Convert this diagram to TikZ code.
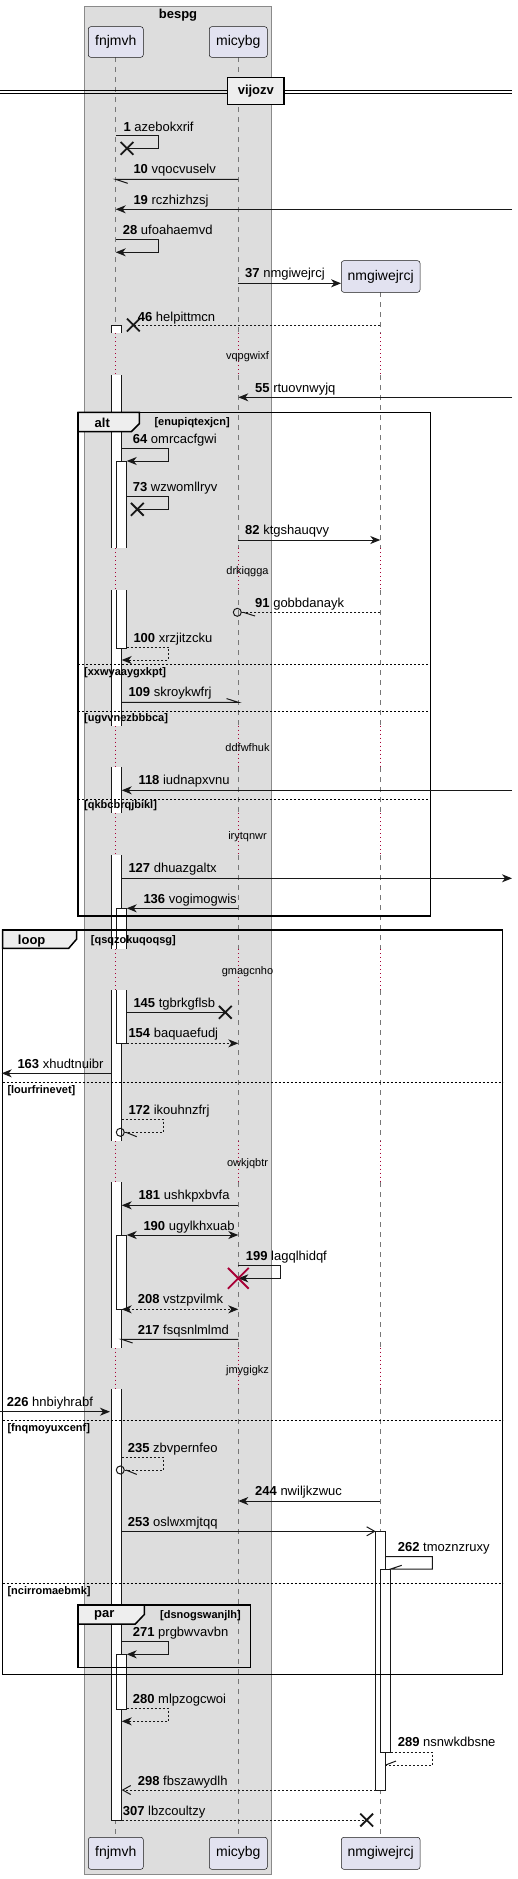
\documentclass[tikz,border=0pt]{standalone}
\usepackage{fontspec}
\setmainfont{Liberation Sans}
\usetikzlibrary{arrows.meta,shapes.misc}
\definecolor{ink}{HTML}{181818}
\definecolor{boxbg}{HTML}{DDDDDD}
\definecolor{boxbd}{HTML}{8A8A8A}
\definecolor{partbg}{HTML}{E2E2F0}
\definecolor{tabbg}{HTML}{EEEEEE}
\definecolor{delayc}{HTML}{A80036}
\definecolor{lifec}{HTML}{777777}
\tikzset{
 lbl/.style={font=\fontsize{13}{15}\selectfont, anchor=base west, inner sep=0},
 dlbl/.style={font=\fontsize{11}{13}\selectfont, anchor=base, inner sep=0},
 cond/.style={font=\bfseries\fontsize{11}{13}\selectfont, anchor=base west, inner sep=0},
 ftitle/.style={font=\bfseries\fontsize{13}{15}\selectfont, inner sep=0},
 msg/.style={draw=ink, line width=1pt},
 arr/.style={-{Stealth[length=10pt,width=8pt,inset=3pt]}},
 barr/.style={{Stealth[length=10pt,width=8pt,inset=3pt]}-{Stealth[length=10pt,width=8pt,inset=3pt]}},
 oarr/.style={-{Straight Barb[length=8pt,width=9pt]}},
 dsh/.style={dash pattern=on 2pt off 2pt},
 xmark/.style={cross out, draw=ink, line width=1.8pt, minimum size=11pt, inner sep=0},
 circ/.style={circle, draw=ink, line width=1pt, minimum size=8pt, inner sep=0},
 part/.style={draw=ink, line width=0.5pt, fill=partbg, rounded corners=2.5pt, font=\fontsize{14}{16}\selectfont, inner sep=0},
 frm/.style={draw=black, line width=1.5pt},
 sep/.style={draw=black, line width=1pt, dash pattern=on 2pt off 2pt},
 life/.style={draw=lifec, line width=0.8pt, dash pattern=on 5pt off 5pt},
 dly/.style={draw=delayc, line width=0.8pt, dash pattern=on 1pt off 3pt},
 actline/.style={draw=ink, line width=1pt},
}
\newcommand\actmid[4]{\fill[white] (#1,#3) rectangle (#2,#4); \draw[actline] (#1,#3) -- (#1,#4) (#2,#3) -- (#2,#4);}
\newcommand\acttop[4]{\fill[white] (#1,#3) rectangle (#2,#4); \draw[actline] (#1,#4) -- (#1,#3) -- (#2,#3) -- (#2,#4);}
\newcommand\actbot[4]{\fill[white] (#1,#3) rectangle (#2,#4); \draw[actline] (#1,#3) -- (#1,#4) -- (#2,#4) -- (#2,#3);}
\newcommand\actfull[4]{\draw[actline, fill=white] (#1,#3) rectangle (#2,#4);}
\begin{document}
\begin{tikzpicture}[x=1pt,y=-1pt]
\useasboundingbox (0,0) rectangle (518,1879);
% lifeline coordinates
\coordinate (F) at (115.7,0);
\coordinate (M) at (238.3,0);
\coordinate (N) at (380.3,0);
\coordinate (FA) at (121.7,0);
\coordinate (FL) at (111.7,0);
\coordinate (FN) at (126.7,0);
\coordinate (NL) at (375.7,0);
\coordinate (NR) at (385.7,0);
\coordinate (NN) at (390.7,0);
\coordinate (RE) at (512,0);
\coordinate (LE) at (0,0);
% box
\draw[boxbd, fill=boxbg, line width=1pt] (84.3,6) rectangle (271.7,1874);
\node[ftitle] (bt) at (178,15) {bespg};
% lifelines
\foreach \x in {115.7,238.3}{
  \foreach \a/\b in {57.3/333.3,375/548.3,590/725.7,767.3/813.3,855/949,990/1140.7,1182.3/1347.7,1389/1837.3}
    \draw[life] (\x,\a) -- (\x,\b);
}
\foreach \a/\b in {292.3/333.3,375/548.3,590/725.7,767.3/813.3,855/949,990/1140.7,1182.3/1347.7,1389/1837.3}
  \draw[life] (380.3,\a) -- (380.3,\b);
\foreach \x in {115.7,238.3,380.3}{
  \foreach \a/\b in {333.3/375,548.3/590,725.7/767.3,813.3/855,949/990,1140.7/1182.3,1347.7/1389}
    \draw[dly] (\x,\a) -- (\x,\b);
}
% participants
\node[part, minimum width=55pt, minimum height=30.6pt] (pf) at (115.8,42) {fnjmvh};
\node[part, minimum width=58pt, minimum height=30.6pt] (pm) at (238.3,42) {micybg};
\node[part, minimum width=78.7pt, minimum height=31.6pt] (pn) at (380.7,276.5) {nmgiwejrcj};
\node[part, minimum width=55pt, minimum height=32pt] (pf2) at (115.8,1853.3) {fnjmvh};
\node[part, minimum width=58pt, minimum height=32pt] (pm2) at (238.3,1853.3) {micybg};
\node[part, minimum width=78.7pt, minimum height=32pt] (pn2) at (380.7,1853.3) {nmgiwejrcj};
% divider
\draw[black, line width=1pt] (0,90) -- (512,90) (0,93.3) -- (512,93.3);
\node[draw=black, line width=1.5pt, fill=tabbg, minimum width=56.3pt, minimum height=26.6pt, inner sep=0, font=\bfseries\fontsize{13}{15}\selectfont] (div) at (255.85,91) {vijozv};
% activations outer F
\acttop{111.7}{121.7}{325}{333.3}
\actmid{111.7}{121.7}{375}{548.3}
\actmid{111.7}{121.7}{590}{725.7}
\actmid{111.7}{121.7}{767.3}{813.3}
\actmid{111.7}{121.7}{855}{949}
\actmid{111.7}{121.7}{990}{1140.7}
\actmid{111.7}{121.7}{1182.3}{1347.7}
\actbot{111.7}{121.7}{1389}{1820}
% nested F
\acttop{116.3}{126.7}{461}{548.3}
\actbot{116.3}{126.7}{590}{648.3}
\acttop{116.3}{126.7}{908.3}{949}
\actbot{116.3}{126.7}{990}{1043.3}
\actfull{116.3}{126.7}{1235}{1309.3}
\actfull{116.3}{126.7}{1654.3}{1709.3}
% N
\actfull{375.7}{385.7}{1531.3}{1790}
\actfull{380.7}{390.7}{1569}{1752.7}
% frames
\draw[frm] (78,412.3) rectangle (430.7,916);
\draw[frm, fill=tabbg] (78,412.3) -- (139.3,412.3) -- (139.3,423.7) -- (131.3,431.7) -- (78,431.7) -- cycle;
\draw[sep] (78,664) -- (430.7,664);
\draw[sep] (78,711) -- (430.7,711);
\draw[sep] (78,799.3) -- (430.7,799.3);
\draw[frm] (2.7,930) rectangle (502.7,1674.3);
\draw[frm, fill=tabbg] (2.7,930) -- (76.7,930) -- (76.7,939) -- (68.7,948.3) -- (2.7,948.3) -- cycle;
\draw[sep] (2.7,1082.3) -- (502.7,1082.3);
\draw[sep] (2.7,1420.3) -- (502.7,1420.3);
\draw[sep] (2.7,1583.3) -- (502.7,1583.3);
\draw[frm] (78,1605) rectangle (250.7,1667.3);
\draw[frm, fill=tabbg] (78,1605) -- (144.3,1605) -- (144.3,1614.5) -- (135.3,1624) -- (78,1624) -- cycle;
% frame texts
\node[ftitle] (talt) at (102.3,422.7) {alt};
\node[cond, anchor=west] (calt) at (154.3,422.3) {[enupiqtexjcn]};
\node[cond, anchor=west] (c2) at (84,672.3) {[xxwyaaygxkpt]};
\node[cond, anchor=west] (c3) at (84,718.3) {[ugvvnezbbbca]};
\node[cond, anchor=west] (c4) at (84,806) {[qkbcbrqjbikl]};
\node[ftitle] (tloop) at (31.7,940.7) {loop};
\node[cond, anchor=west] (cloop) at (90.7,940.7) {[qsqzokuqoqsg]};
\node[cond, anchor=west] (c5) at (7.3,1090.3) {[lourfrinevet]};
\node[cond, anchor=west] (c6) at (7.3,1428.3) {[fnqmoyuxcenf]};
\node[cond, anchor=west] (c7) at (7.3,1591.7) {[ncirromaebmk]};
\node[ftitle] (tpar) at (104.3,1615.7) {par};
\node[cond, anchor=west] (cpar) at (160,1615.7) {[dsnogswanjlh]};
% delays
\node[dlbl] (d1) at (247.5,359) {vqpgwixf};
\node[dlbl] (d2) at (247.5,574) {drkiqgga};
\node[dlbl] (d3) at (247.5,751) {ddfwfhuk};
\node[dlbl] (d4) at (247.5,839) {irytqnwr};
\node[dlbl] (d5) at (247.5,974) {gmagcnho};
\node[dlbl] (d6) at (247.5,1166.3) {owkjqbtr};
\node[dlbl] (d7) at (247.5,1373.3) {jmygigkz};
% messages
% 1
\node[xmark] (x1) at (127,148.3) {};
\draw[msg] (F|-0,135.7) -- (158.7,135.7) -- (158.7,148.3) -- (x1.center);
\node[lbl] (l1) at (123.3,131.2) {\textbf{1} azebokxrif};
% 10
\draw[msg] (M|-0,179.3) -- (F|-0,179.3) -- ++(12,4);
\node[lbl] (l10) at (133.3,173.8) {\textbf{10} vqocvuselv};
% 19
\draw[msg,arr] (RE|-0,209.3) -- (F|-0,209.3);
\node[lbl] (l19) at (133.3,204.5) {\textbf{19} rczhizhzsj};
% 28
\draw[msg,arr] (F|-0,239.3) -- (158.7,239.3) -- (158.7,252.3) -- (F|-0,252.3);
\node[lbl] (l28) at (122.7,234.5) {\textbf{28} ufoahaemvd};
% 37
\draw[msg,arr] (M|-0,283.3) -- (pn.west|-0,283.3);
\node[lbl] (l37) at (245,277.2) {\textbf{37} nmgiwejrcj};
% 46
\node[xmark] (x46) at (133.3,325) {};
\draw[msg,dsh] (N|-0,325) -- (x46.center);
\node[lbl] (l46) at (137.7,321.2) {\textbf{46} helpittmcn};
% 55
\draw[msg,arr] (RE|-0,397.3) -- (M|-0,397.3);
\node[lbl] (l55) at (255,392.8) {\textbf{55} rtuovnwyjq};
% 64
\draw[msg,arr] (FA|-0,448.3) -- (168.7,448.3) -- (168.7,461) -- (FN|-0,461);
\node[lbl] (l64) at (132.7,443.8) {\textbf{64} omrcacfgwi};
% 73
\node[xmark] (x73) at (137.3,509.3) {};
\draw[msg] (FN|-0,496.7) -- (168.7,496.7) -- (168.7,509.3) -- (x73.center);
\node[lbl] (l73) at (132.7,491.8) {\textbf{73} wzwomllryv};
% 82
\draw[msg,arr] (M|-0,540) -- (N|-0,540);
\node[lbl] (l82) at (245,534.5) {\textbf{82} ktgshauqvy};
% 91
\node[circ] (o91) at (237.3,612.3) {};
\draw[msg,dsh] (N|-0,612.3) -- (o91.east);
\draw[msg] (243.3,612.3) -- ++(11.7,3.7);
\node[lbl] (l91) at (255,607.8) {\textbf{91} gobbdanayk};
% 100
\draw[msg,dsh,arr] (FN|-0,647.3) -- (168.7,647.3) -- (168.7,660) -- (FA|-0,660);
\node[lbl] (l100) at (133.3,642.8) {\textbf{100} xrzjitzcku};
% 109
\draw[msg] (FA|-0,702.3) -- (M|-0,702.3) -- ++(-11.7,-3.7);
\node[lbl] (l109) at (128.3,696.8) {\textbf{109} skroykwfrj};
% 118
\draw[msg,arr] (RE|-0,790.3) -- (FA|-0,790.3);
\node[lbl] (l118) at (138.3,784.8) {\textbf{118} iudnapxvnu};
% 127
\draw[msg,arr] (FA|-0,878.3) -- (RE|-0,878.3);
\node[lbl] (l127) at (128.3,872.8) {\textbf{127} dhuazgaltx};
% 136
\draw[msg,arr] (M|-0,908.3) -- (FN|-0,908.3);
\node[lbl] (l136) at (143.3,903.8) {\textbf{136} vogimogwis};
% 145
\node[xmark] (x145) at (225.3,1012.3) {};
\draw[msg] (FN|-0,1012.3) -- (x145.center);
\node[lbl] (l145) at (133.3,1007.8) {\textbf{145} tgbrkgflsb};
% 154
\draw[msg,dsh,arr] (FN|-0,1043.3) -- (M|-0,1043.3);
\node[lbl] (l154) at (128.3,1037.8) {\textbf{154} baquaefudj};
% 163
\draw[msg,arr] (FL|-0,1073.3) -- (1.7,1073.3);
\node[lbl] (l163) at (17.3,1068.8) {\textbf{163} xhudtnuibr};
% 172
\node[circ] (o172) at (120.3,1132.3) {};
\draw[msg,dsh] (FA|-0,1119.3) -- (163.3,1119.3) -- (163.3,1132.3) -- (o172.east);
\draw[msg] (126,1132.3) -- ++(10.7,4.4);
\node[lbl] (l172) at (128.3,1114.5) {\textbf{172} ikouhnzfrj};
% 181
\draw[msg,arr] (M|-0,1205.3) -- (FA|-0,1205.3);
\node[lbl] (l181) at (138.3,1199.8) {\textbf{181} ushkpxbvfa};
% 190
\draw[msg,barr] (FN|-0,1235) -- (M|-0,1235);
\node[lbl] (l190) at (143.3,1230.5) {\textbf{190} ugylkhxuab};
% 199
\draw[msg,arr] (M|-0,1265.7) -- (280.7,1265.7) -- (280.7,1278.3) -- (M|-0,1278.3);
\node[cross out, draw=delayc, line width=1.8pt, minimum size=19pt, inner sep=0] (x199) at (238.3,1278.3) {};
\node[lbl] (l199) at (245.7,1260.5) {\textbf{199} lagqlhidqf};
% 208
\draw[msg,dsh,barr] (FA|-0,1309.3) -- (M|-0,1309.3);
\node[lbl] (l208) at (137.7,1303.8) {\textbf{208} vstzpvilmk};
% 217
\draw[msg] (M|-0,1339.3) -- (FA|-0,1339.3) -- ++(11,3.7);
\node[lbl] (l217) at (137.7,1334.5) {\textbf{217} fsqsnlmlmd};
% 226
\draw[msg,arr] (LE|-0,1411.7) -- (110,1411.7);
\node[lbl] (l226) at (6.7,1406.8) {\textbf{226} hnbiyhrabf};
% 235
\node[circ] (o235) at (120.3,1470) {};
\draw[msg,dsh] (FA|-0,1457.3) -- (163.3,1457.3) -- (163.3,1470) -- (o235.east);
\draw[msg] (126,1470) -- ++(10.7,4.4);
\node[lbl] (l235) at (127.7,1452.8) {\textbf{235} zbvpernfeo};
% 244
\draw[msg,arr] (N|-0,1501) -- (M|-0,1501);
\node[lbl] (l244) at (255,1495.5) {\textbf{244} nwiljkzwuc};
% 253
\draw[msg,oarr] (FA|-0,1531.3) -- (NL|-0,1531.3);
\node[lbl] (l253) at (127.7,1526.8) {\textbf{253} oslwxmjtqq};
% 262
\draw[msg] (NR|-0,1556.7) -- (432.3,1556.7) -- (432.3,1569) -- (NN|-0,1569) -- ++(11,-3.7);
\node[lbl] (l262) at (397.7,1551.8) {\textbf{262} tmoznzruxy};
% 271
\draw[msg,arr] (FA|-0,1641.7) -- (168.7,1641.7) -- (168.7,1654.3) -- (FN|-0,1654.3);
\node[lbl] (l271) at (132.7,1636.8) {\textbf{271} prgbwvavbn};
% 280
\draw[msg,dsh,arr] (FN|-0,1708.7) -- (168.7,1708.7) -- (168.7,1721.3) -- (FA|-0,1721.3);
\node[lbl] (l280) at (132.7,1703.8) {\textbf{280} mlpzogcwoi};
% 289
\draw[msg,dsh] (NN|-0,1752.3) -- (432.3,1752.3) -- (432.3,1765) -- (NR|-0,1765);
\draw[msg] (NR|-0,1765) -- ++(10.3,-4);
\node[lbl] (l289) at (397.7,1746.8) {\textbf{289} nsnwkdbsne};
% 298
\draw[msg,dsh,oarr] (NL|-0,1790) -- (FA|-0,1790);
\node[lbl] (l298) at (137.7,1785.5) {\textbf{298} fbszawydlh};
% 307
\node[xmark] (x307) at (366.7,1820) {};
\draw[msg,dsh] (FA|-0,1820) -- (x307.center);
\node[lbl] (l307) at (122.7,1815.2) {\textbf{307} lbzcoultzy};
\end{tikzpicture}
\end{document}
